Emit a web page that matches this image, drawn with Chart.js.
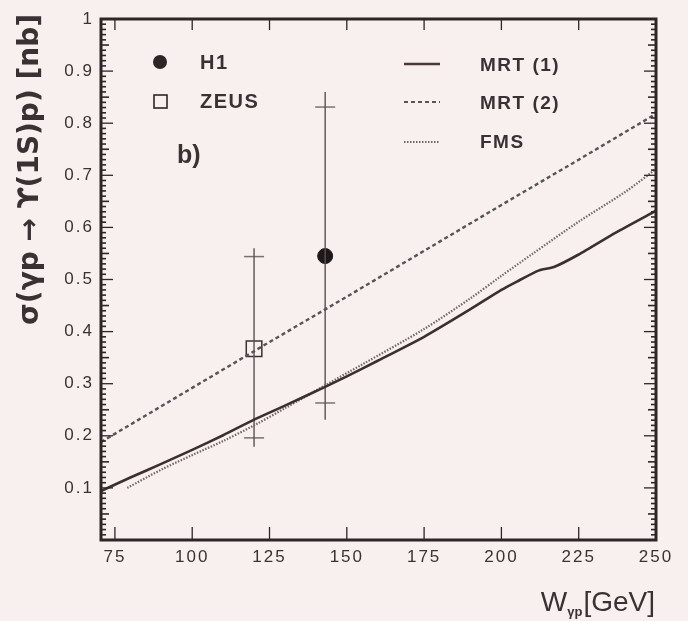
<!DOCTYPE html>
<html><head><meta charset="utf-8">
<script src="https://cdn.jsdelivr.net/npm/chart.js@4/dist/chart.umd.min.js"></script>
<style>
html,body{margin:0;padding:0;background:#f7f0ef;}
#wrap{width:688px;height:621px;}
</style></head>
<body><div id="wrap"><canvas id="c" width="688" height="621"></canvas></div>
<script>
// ---- data ----
const xTickValues = [75, 100, 125, 150, 175, 200, 225, 250];
const yTickValues = [0.1, 0.2, 0.3, 0.4, 0.5, 0.6, 0.7, 0.8, 0.9, 1];

const mrt1W     = [70.5, 80, 90, 100, 110, 120, 130, 143, 150, 160, 175, 190, 200, 205, 212, 217, 225, 237, 250];
const mrt1Sigma = [0.094, 0.12, 0.146, 0.173, 0.201, 0.231, 0.258, 0.294, 0.314, 0.344, 0.39, 0.443, 0.48, 0.496, 0.517, 0.524, 0.548, 0.59, 0.632];

const mrt2W     = [70.5, 100, 125, 150, 175, 200, 225, 250];
const mrt2Sigma = [0.188, 0.292, 0.38, 0.467, 0.555, 0.643, 0.73, 0.818];

const fmsW      = [79, 90, 100, 110, 120, 130, 143, 155, 175, 190, 200, 210, 225, 240, 250];
const fmsSigma  = [0.1, 0.135, 0.163, 0.19, 0.22, 0.253, 0.297, 0.337, 0.405, 0.464, 0.507, 0.549, 0.611, 0.668, 0.712];

const h1W = [143], h1Sigma = [0.545];
const h1StatErr  = [0.263, 0.831];
const h1TotalErr = [0.231, 0.86];

const zeusW = [120], zeusSigma = [0.367];
const zeusStatErr  = [0.196, 0.544];
const zeusTotalErr = [0.179, 0.56];

// ---- helpers ----
const pts = (xs, ys) => xs.map((x, i) => ({x, y: ys[i]}));
const BG = '#f7f0ef', INK = '#2e2626', TXT = '#3a3232';
const FONT = '"Liberation Sans", Arial, sans-serif';

const spacing = {
  id: 'spacing',
  beforeDraw(chart) { chart.ctx.letterSpacing = '2px'; },
  beforeDatasetsDraw(chart) { chart.ctx.letterSpacing = '0px'; }
};

const frameTicks = {
  id: 'frameTicks',
  afterDraw(chart) {
    const {ctx, chartArea: a, scales: {x, y}} = chart;
    ctx.save();
    ctx.letterSpacing = '0px';
    ctx.strokeStyle = INK;
    ctx.lineWidth = 1.3;
    xTickValues.forEach(v => {
      const px = x.getPixelForValue(v);
      ctx.beginPath(); ctx.moveTo(px, a.bottom); ctx.lineTo(px, a.bottom - 13); ctx.stroke();
      ctx.beginPath(); ctx.moveTo(px, a.top); ctx.lineTo(px, a.top + 11); ctx.stroke();
    });
    for (let i = 1; i < 100; i++) {
      const py = y.getPixelForValue(i / 100);
      const len = (i % 10 === 0) ? 12 : (i % 5 === 0 ? 8 : 5);
      ctx.lineWidth = (i % 10 === 0) ? 1.3 : 1.6;
      ctx.beginPath(); ctx.moveTo(a.left, py); ctx.lineTo(a.left + len, py); ctx.stroke();
      ctx.beginPath(); ctx.moveTo(a.right, py); ctx.lineTo(a.right - len, py); ctx.stroke();
    }
    ctx.lineWidth = 3;
    ctx.strokeRect(a.left, a.top, a.right - a.left, a.bottom - a.top);

    // legend (left)
    ctx.fillStyle = INK;
    ctx.beginPath(); ctx.arc(160, 62, 7, 0, Math.PI * 2); ctx.fill();
    ctx.lineWidth = 1.6;
    ctx.fillStyle = BG;
    ctx.fillRect(154, 95, 13, 13);
    ctx.strokeRect(154, 95, 13, 13);
    ctx.fillStyle = TXT;
    ctx.textBaseline = 'middle';
    ctx.textAlign = 'left';
    ctx.letterSpacing = '1.5px';
    ctx.font = 'bold 20px ' + FONT;
    ctx.fillText('H1', 200, 63);
    ctx.fillText('ZEUS', 200, 102);
    ctx.letterSpacing = '0px';
    ctx.font = 'bold 25px ' + FONT;
    ctx.fillText('b)', 177, 156);
    // legend (right)
    ctx.letterSpacing = '1.5px';
    ctx.font = 'bold 19px ' + FONT;
    ctx.fillText('MRT (1)', 480, 66);
    ctx.fillText('MRT (2)', 480, 104);
    ctx.fillText('FMS', 480, 143);
    ctx.letterSpacing = '0px';
    ctx.strokeStyle = '#4a3838'; ctx.lineWidth = 2.5; ctx.setLineDash([]);
    ctx.beginPath(); ctx.moveTo(404, 64); ctx.lineTo(440, 64); ctx.stroke();
    ctx.strokeStyle = '#555'; ctx.lineWidth = 2.2; ctx.setLineDash([4, 3]);
    ctx.beginPath(); ctx.moveTo(404, 102); ctx.lineTo(440, 102); ctx.stroke();
    ctx.strokeStyle = '#6f6767'; ctx.lineWidth = 2.2; ctx.setLineDash([1.5, 1.5]);
    ctx.beginPath(); ctx.moveTo(404, 142); ctx.lineTo(440, 142); ctx.stroke();
    ctx.setLineDash([]);

    // x axis title with subscript
    ctx.fillStyle = TXT;
    ctx.textBaseline = 'alphabetic';
    ctx.textAlign = 'left';
    const big = '28px ' + FONT, small = 'bold 13px ' + FONT;
    ctx.font = big; const wW = ctx.measureText('W').width, wG = ctx.measureText('[GeV]').width;
    ctx.font = small; const wS = ctx.measureText('γp').width;
    let xs = 655 - (wW + wS + 1 + wG);
    const base = 611;
    ctx.font = big; ctx.fillText('W', xs, base); xs += wW;
    ctx.font = small; ctx.fillText('γp', xs, base + 5); xs += wS + 1;
    ctx.font = big; ctx.fillText('[GeV]', xs, base);

    // y axis title (rotated)
    ctx.save();
    ctx.translate(31, 14);
    ctx.rotate(-Math.PI / 2);
    ctx.textAlign = 'right';
    ctx.textBaseline = 'middle';
    ctx.font = 'bold 28px "DejaVu Sans", ' + FONT;
    ctx.fillText('σ(γp → ϒ(1S)p) [nb]', 0, 0);
    ctx.restore();
    ctx.restore();
  }
};

const data = {
  datasets: [
    { label: 'MRT (1)', data: pts(mrt1W, mrt1Sigma), showLine: true, borderColor: '#3b2f2f', borderWidth: 2.6, pointRadius: 0, tension: 0.2 },
    { label: 'MRT (2)', data: pts(mrt2W, mrt2Sigma), showLine: true, borderColor: '#555', borderWidth: 2.4, borderDash: [4, 3], pointRadius: 0 },
    { label: 'FMS', data: pts(fmsW, fmsSigma), showLine: true, borderColor: '#6f6767', borderWidth: 2.2, borderDash: [1.5, 1.5], pointRadius: 0, tension: 0.3 },
    { label: 'H1 total', data: [{x: h1W[0], y: h1TotalErr[0]}, {x: h1W[0], y: h1TotalErr[1]}], showLine: true, borderColor: '#5a5050', borderWidth: 1.4, pointRadius: 0 },
    { label: 'H1 stat', data: [{x: h1W[0], y: h1StatErr[0]}, {x: h1W[0], y: h1StatErr[1]}], showLine: false, pointStyle: 'line', pointRadius: 10, borderColor: '#7a7070', borderWidth: 1.5 },
    { label: 'ZEUS total', data: [{x: zeusW[0], y: zeusTotalErr[0]}, {x: zeusW[0], y: zeusTotalErr[1]}], showLine: true, borderColor: '#5a5050', borderWidth: 1.4, pointRadius: 0 },
    { label: 'ZEUS stat', data: [{x: zeusW[0], y: zeusStatErr[0]}, {x: zeusW[0], y: zeusStatErr[1]}], showLine: false, pointStyle: 'line', pointRadius: 10, borderColor: '#7a7070', borderWidth: 1.5 },
    { label: 'H1', data: pts(h1W, h1Sigma), pointStyle: 'circle', pointRadius: 7.5, backgroundColor: '#1e1818', borderColor: '#1e1818', borderWidth: 1 },
    { label: 'ZEUS', data: pts(zeusW, zeusSigma), pointStyle: 'rect', pointRadius: 11, backgroundColor: BG, borderColor: '#3a3232', borderWidth: 1.5 }
  ]
};

new Chart(document.getElementById('c'), {
  type: 'scatter',
  data,
  options: {
    responsive: false,
    devicePixelRatio: 1,
    animation: false,
    layout: { padding: { left: 0, top: 19, right: 32, bottom: 0 } },
    plugins: { legend: { display: false }, tooltip: { enabled: false } },
    scales: {
      x: {
        type: 'linear', min: 70.5, max: 250,
        afterBuildTicks: s => { s.ticks = xTickValues.map(v => ({value: v})); },
        afterFit: s => { s.height = 81; },
        grid: { display: false, drawTicks: false }, border: { display: false },
        ticks: { color: TXT, padding: 7, maxRotation: 0, autoSkip: false, font: { family: FONT, size: 17 } }
      },
      y: {
        type: 'linear', min: 0, max: 1,
        afterBuildTicks: s => { s.ticks = yTickValues.map(v => ({value: v})); },
        afterFit: s => { s.width = 101; },
        grid: { display: false, drawTicks: false }, border: { display: false },
        ticks: { color: TXT, padding: 7, autoSkip: false, font: { family: FONT, size: 17 }, callback: v => String(v) }
      }
    }
  },
  plugins: [spacing, frameTicks]
});
</script></body></html>
